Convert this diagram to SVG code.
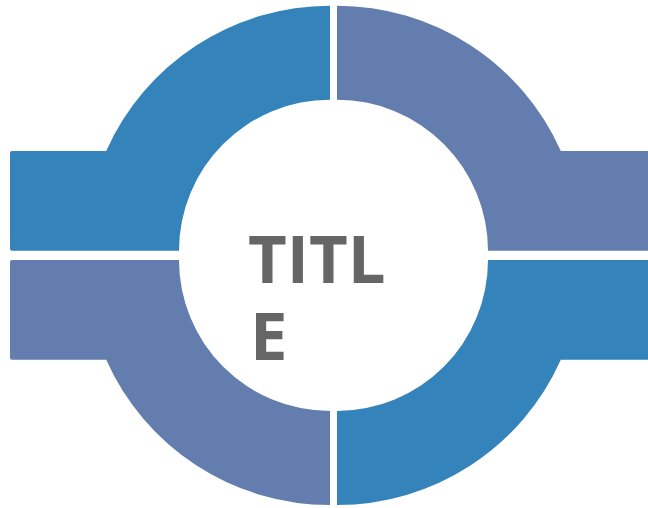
<svg xmlns="http://www.w3.org/2000/svg" width="648" height="508" viewBox="0 0 648 508">
  <style>
    .blue { fill: #3483BB; }
    .slate { fill: #627DAE; }
    .title { font-family: "Open Sans", "Liberation Sans", sans-serif; font-weight: 700; font-size: 67px; fill: #666666; }
  </style>
  <rect width="648" height="508" fill="#FFFFFF"/>
  <g id="segment-top-left">
    <path class="blue" d="M330,5.7 A245,245 0 0 0 106.2,151 L12,151 Q10,151 10,153 L10,248.7 Q10,250.7 12,250.7 L179,250.7 A151,151 0 0 1 330,99.7 Z"/>
  </g>
  <g id="segment-top-right">
    <path class="slate" d="M337,5.7 A245,245 0 0 1 560.8,151 L648,151 L648,250.7 L488,250.7 A151,151 0 0 0 337,99.7 Z"/>
  </g>
  <g id="segment-bottom-left">
    <path class="slate" d="M330,505 A245,245 0 0 1 106.2,359.7 L12,359.7 Q10,359.7 10,357.7 L10,262 Q10,260 12,260 L179,260 A151,151 0 0 0 330,411 Z"/>
  </g>
  <g id="segment-bottom-right">
    <path class="blue" d="M337,505 A245,245 0 0 0 560.8,359.7 L648,359.7 L648,260 L488,260 A151,151 0 0 1 337,411 Z"/>
  </g>
  <g id="title">
    <text class="title" x="248" y="283">TITL</text>
    <text class="title" x="250" y="360">E</text>
  </g>
</svg>
